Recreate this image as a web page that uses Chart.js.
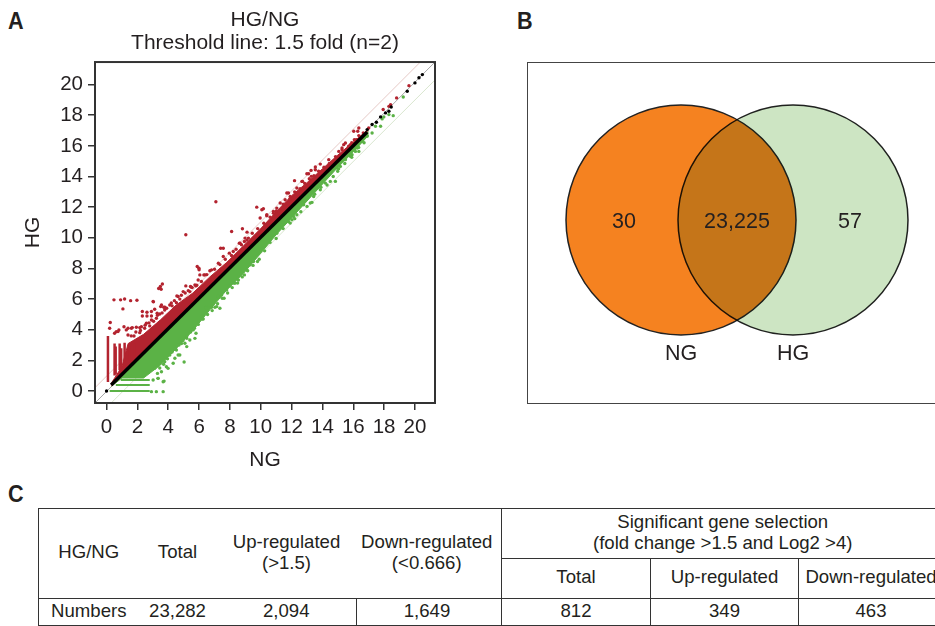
<!DOCTYPE html>
<html>
<head>
<meta charset="utf-8">
<script src="https://cdn.jsdelivr.net/npm/chart.js@4"></script>
<style>
  html, body { margin: 0; padding: 0; background: #fff; }
  body { width: 935px; height: 626px; overflow: hidden; position: relative; font-family: "Liberation Sans", Arial, sans-serif; color: #231f20; }
  canvas { position: absolute; }
  .letter { position: absolute; font-family: "Liberation Sans", sans-serif; font-weight: bold; font-size: 24px; line-height: 24px; transform: scaleX(0.9); transform-origin: left; }
  #venn-box { position: absolute; left: 527px; top: 62px; width: 500px; height: 340px; border: 1.5px solid #444; }
  #gene-table { position: absolute; left: 38px; top: 508px; width: 905px; table-layout: fixed; border-collapse: collapse; font-size: 18.6px; line-height: 21px; text-align: center; }
  #gene-table td { border: 1.5px solid #333; padding: 0 0 4px 0; }
  #gene-table .open { border-left: none; border-right: none; }
  #gene-table .first { border-right: none; }
</style>
</head>
<body>
<div class="letter" style="left:8px;top:9px">A</div>
<div class="letter" style="left:517px;top:9px">B</div>
<div class="letter" style="left:8px;top:482px">C</div>

<canvas id="scatterChart" width="534" height="473" style="left:0;top:0"></canvas>
<div id="venn-box"></div>
<canvas id="vennChart" width="408" height="340" style="left:527px;top:62px"></canvas>
<table id="gene-table"></table>

<script>
// Panel A, values
const tickValues = [0, 2, 4, 6, 8, 10, 12, 14, 16, 18, 20];

// dense clouds: shared x, top of the red cloud and bottom of the green cloud
const bandX = [0.3, 1, 1.4, 2.4, 3.5, 4.5, 5.6, 6.7, 7.8, 8.9, 10, 11, 12, 13, 14, 15, 16, 17];
const redTop = [0.5, 1.6, 3.1, 3.7, 4.65, 5.6, 6.4, 7.45, 8.4, 9.5, 10.6, 11.7, 12.75, 13.6, 14.5, 15.4, 16.25, 17.1];
const greenBottom = [0.3, 0.85, 0.85, 0.85, 1.7, 2.75, 3.95, 5.3, 6.6, 7.7, 9, 10.2, 11.3, 12.4, 13.5, 14.6, 15.6, 16.7];

// low-expression streaks in the bottom left corner
const streakX = [0.09, 0.52, 0.59, 0.85, 0.95, 1.17, 1.5, 1.82];
const streakTop = [3.6, 3.1, 2.9, 3.1, 2.8, 3.15, 3.0, 3.1];
const rowY = [0, 0.4, 0.72];
const rowEnd = [2.8, 2.8, 2.8];

const thresholdUpX = [-0.75, 20.35];
const thresholdUpY = [0.22, 21.47];
const thresholdDownX = [0.3, 21.3];
const thresholdDownY = [-0.78, 20.3];
const diagonalX = [-0.75, 21.3];
const diagonalY = [-0.78, 21.47];

const redX = [0.48, 0.91, 1.17, 1.56, 1.97, 1.06, 0.24, 0.2, 2.32, 2.32, 2.62, 2.91, 2.62, 2.91, 3.12, 3.04, 3.51, 3.71, 3.38, 3.49, 3.62, 3.54, 5.14, 4.56, 5.14, 5.44, 5.73, 5.4, 5.88, 5.99, 6.31, 5.94, 7.4, 7.57, 8.11, 8.66, 8.98, 0.63, 0.8, 1.13, 1.39, 1.67, 1.93, 2.15, 7.09, 8.81, 9.11, 9.74, 10.07, 10.39, 10.82, 11.69, 11.91, 12.19, 12.67, 13.1, 13.28, 13.86, 13.54, 14.73, 15.27, 15.38, 15.7, 16.03, 16.36, 16.07, 17.0, 17.94, 18.31, 18.42, 18.81, 19.61,
  0.52, 0.74, 1.28, 1.61, 2.26, 2.58, 2.91, 3.23, 1.39, 1.78, 2.15, 2.47, 2.8, 3.45, 3.77, 4.25, 4.53,
  3.02, 6.0, 6.05, 5.51, 5.79, 6.38, 6.81, 7.25, 7.57, 7.96, 8.22, 8.61, 8.94, 9.2, 4.97, 4.64, 4.1, 3.78, 3.56, 3.28,
  10.17, 9.96, 10.39, 10.82, 11.04, 11.8, 12.71, 12.99, 13.26, 13.54, 12.34, 14.41, 15.06, 15.27, 15.49, 15.81, 16.29, 16.36, 11.58, 11.26,
  1.6, 1.9, 2.2, 2.5, 2.75, 3.05, 3.3, 3.6, 3.9, 4.2, 4.4, 4.75, 4.85, 5.1, 5.3, 5.55, 5.85, 6.15, 6.5, 6.7, 7.0, 7.35, 7.7, 8.1, 8.4, 8.75, 9.1, 9.45, 9.8, 10.2, 10.6, 11.0, 11.45, 11.9, 12.2, 12.55, 12.85, 13.15, 13.45, 13.75, 14.1, 14.45, 14.85, 15.1, 15.55, 15.9, 16.2, 16.65];
const redY = [5.95, 5.95, 6.01, 5.9, 5.93, 5.36, 4.47, 4.1, 5.19, 4.9, 5.14, 5.19, 4.9, 4.9, 5.34, 5.82, 5.51, 5.47, 6.69, 6.82, 6.99, 6.64, 10.2, 6.21, 6.86, 6.82, 6.93, 6.49, 8.13, 8.02, 7.58, 7.25, 9.32, 9.32, 10.41, 9.65, 9.98, 3.88, 3.99, 4.2, 4.1, 4.14, 4.16, 4.14, 12.35, 10.59, 10.37, 12.0, 11.83, 11.44, 11.61, 12.92, 12.7, 13.73, 13.68, 14.18, 14.01, 14.81, 14.44, 14.88, 15.75, 16.08, 15.97, 16.95, 17.17, 16.4, 17.17, 18.37, 18.58, 18.69, 19.13, 19.93,
  3.77, 3.88, 3.99, 4.1, 4.2, 4.42, 4.64, 4.75, 3.66, 3.59, 3.81, 4.1, 4.25, 5.03, 5.29, 5.56, 5.77,
  5.84, 7.91, 7.58, 6.78, 6.86, 7.58, 7.91, 8.34, 8.78, 9.0, 9.11, 9.65, 9.76, 9.98, 6.49, 6.17, 5.62, 5.47, 5.62, 5.08,
  11.9, 11.29, 11.5, 11.72, 11.94, 12.92, 13.68, 14.18, 14.4, 14.62, 13.25, 15.1, 15.64, 15.86, 16.19, 16.08, 16.95, 16.67, 12.48, 12.27,
  3.6, 3.85, 3.95, 4.3, 4.45, 4.55, 4.95, 5.1, 5.4, 5.75, 5.9, 6.0, 6.25, 6.4, 6.55, 6.75, 6.9, 7.15, 7.6, 7.85, 7.95, 8.25, 8.6, 8.85, 9.25, 9.55, 9.85, 10.3, 10.6, 10.95, 11.35, 11.75, 12.2, 12.55, 13.0, 13.2, 13.55, 13.85, 14.05, 14.35, 14.6, 14.85, 15.3, 15.35, 15.75, 16.2, 16.4, 16.85];

const greenX = [5.03, 3.73, 5.2, 5.8, 4.86, 5.2, 7.35, 7.03, 6.48, 6.27, 9.79, 9.09, 8.26, 3.34, 3.99, 4.32, 4.64, 19.24, 18.59, 18.31, 17.98, 17.87, 17.77, 17.44, 17.22, 16.9, 16.57, 16.25, 15.92, 14.95, 14.84, 14.99, 14.19, 13.32, 12.13, 11.91, 11.04,
  5.62, 5.08, 5.18, 4.53, 4.1, 3.77, 3.67, 3.34, 3.23, 2.91, 3.67, 3.02, 3.56, 3.12, 3.88, 4.43, 4.75, 5.4, 5.73,
  8.94, 8.33, 8.0, 7.62, 7.25, 6.81, 7.14, 6.44, 6.16, 9.31, 9.53, 8.55, 7.79, 7.46,
  16.36, 16.14, 15.81, 15.49, 15.16, 14.51, 13.86, 13.43, 13.21, 12.78, 12.34, 12.02, 11.37,
  3.3, 3.45, 3.7, 3.95, 4.25, 4.45, 4.7, 4.95, 5.2, 5.45, 5.7, 5.95, 6.2, 6.55, 6.85, 7.2, 7.5, 7.85, 8.15, 8.5, 8.8, 9.15, 9.5, 9.9, 10.25, 10.6, 11.0, 11.45, 11.8, 12.2, 12.6, 13.0, 13.5, 13.9, 14.3, 14.7, 15.05, 15.45, 15.9, 16.35, 16.7];
const greenY = [1.9, 0.65, 2.9, 3.77, 3.1, 3.44, 5.4, 5.47, 5.47, 4.7, 8.45, 7.9, 7.04, 0.83, 1.48, 1.81, 2.35, 19.19, 17.97, 18.04, 17.89, 17.76, 17.28, 17.28, 16.84, 16.62, 16.3, 15.86, 15.42, 14.55, 13.68, 14.34, 13.57, 12.31, 11.39, 10.96, 10.3,
  3.99, 3.12, 3.55, 2.68, 2.35, 1.92, 0.61, 0.83, -0.04, -0.04, -0.04, 0.72, 1.26, 1.48, 1.59, 2.14, 2.35, 3.33, 3.44,
  7.58, 7.04, 6.86, 6.06, 6.17, 5.47, 5.51, 5.4, 4.86, 8.24, 8.45, 7.25, 6.6, 6.27,
  15.64, 15.64, 15.32, 15.1, 14.66, 13.68, 13.14, 12.7, 12.27, 12.16, 11.5, 11.18, 10.85,
  1.15, 1.5, 1.75, 2.1, 2.55, 2.75, 3.0, 3.3, 3.6, 3.85, 4.1, 4.35, 4.7, 5.0, 5.25, 5.7, 6.05, 6.4, 6.75, 7.05, 7.45, 7.85, 8.2, 8.6, 9.15, 9.7, 9.95, 10.6, 11.05, 11.25, 11.7, 12.05, 12.85, 13.3, 13.45, 14.0, 14.5, 14.85, 15.25, 15.9, 16.2];

const blackX = [0, 16.9, 17.22, 17.5, 17.77, 18.09, 18.31, 18.46, 19.5, 20.0, 20.26, 20.48];
const blackY = [0, 17.06, 17.39, 17.54, 17.89, 18.15, 18.26, 18.54, 19.56, 20.11, 20.44, 20.65];
const coreX = [0.3, 16.9];
const coreY = [0.4, 16.9];

// Panel B
const vennNames = ["NG", "HG"];
const vennCounts = ["30", "23,225", "57"];

// Panel C
const tableHeadLeft = [["HG/NG"], ["Total"], ["Up-regulated", "(&gt;1.5)"], ["Down-regulated", "(&lt;0.666)"]];
const tableGroup = ["Significant gene selection", "(fold change &gt;1.5 and Log2 &gt;4)"];
const tableHeadRight = ["Total", "Up-regulated", "Down-regulated"];
const tableRow = ["Numbers", "23,282", "2,094", "1,649", "812", "349", "463"];

const ink = "#231f20";
const red = "#b3232f";
const green = "#5bb246";

function pts(xs, ys) {
  return xs.map((x, i) => ({ x, y: ys[i] }));
}

// vertical streaks and horizontal rows are separate strokes, NaN breaks the line
function streakPoints() {
  const out = [];
  streakX.forEach((x, i) => {
    out.push({ x, y: x + 0.5 }, { x, y: streakTop[i] }, { x: NaN, y: NaN });
  });
  return out;
}
function rowPoints() {
  const out = [];
  rowY.forEach((y, i) => {
    out.push({ x: y + 0.2, y }, { x: rowEnd[i], y }, { x: NaN, y: NaN });
  });
  return out;
}

function lineSet(xs, ys, color, width) {
  return { type: "scatter", data: pts(xs, ys), showLine: true, borderColor: color, borderWidth: width, pointRadius: 0 };
}
function dotSet(xs, ys, color, r) {
  return { type: "scatter", data: pts(xs, ys), backgroundColor: color, borderWidth: 0, pointRadius: r };
}

const boxPlugin = {
  id: "box",
  afterDraw(chart) {
    const a = chart.chartArea;
    const ctx = chart.ctx;
    ctx.save();
    ctx.strokeStyle = "#333";
    ctx.lineWidth = 2;
    ctx.strokeRect(a.left, a.top, a.right - a.left, a.bottom - a.top);
    ctx.restore();
  },
};

new Chart(document.getElementById("scatterChart"), {
  type: "scatter",
  data: {
    datasets: [
      dotSet(blackX, blackY, "#000", 1.7),
      lineSet(coreX, coreY, "#000", 3.5),
      dotSet(redX, redY, red, 1.7),
      dotSet(greenX, greenY, green, 1.7),
      { type: "scatter", data: streakPoints(), showLine: true, spanGaps: false, borderColor: red, borderWidth: 2.5, pointRadius: 0 },
      { type: "scatter", data: rowPoints(), showLine: true, spanGaps: false, borderColor: green, borderWidth: 2, pointRadius: 0 },
      { type: "scatter", data: pts(bandX, redTop), showLine: true, borderColor: red, borderWidth: 1, pointRadius: 0, backgroundColor: red, fill: { target: 8 } },
      { type: "scatter", data: pts(bandX, greenBottom), showLine: true, borderColor: green, borderWidth: 1, pointRadius: 0, backgroundColor: green, fill: { target: 8 } },
      { type: "scatter", data: pts(bandX, bandX), showLine: true, borderWidth: 0, pointRadius: 0 },
      lineSet(thresholdUpX, thresholdUpY, "#e6c9c6", 1),
      lineSet(thresholdDownX, thresholdDownY, "#d9e6cf", 1),
      lineSet(diagonalX, diagonalY, "#a8a8a8", 1),
    ],
  },
  options: {
    responsive: false,
    animation: false,
    layout: { padding: { top: 8, right: 99, left: 0, bottom: 0 } },
    plugins: {
      legend: { display: false },
      tooltip: { enabled: false },
      title: {
        display: true,
        fullSize: false,
        text: ["HG/NG", "Threshold line: 1.5 fold (n=2)"],
        color: ink,
        font: { family: "Liberation Sans", size: 21, weight: "normal", lineHeight: 1.12 },
        padding: { top: 0, bottom: 7 },
      },
    },
    scales: {
      x: {
        min: -0.75,
        max: 21.3,
        afterBuildTicks(axis) { axis.ticks = tickValues.map((v) => ({ value: v })); },
        afterFit(axis) { axis.height = 70; },
        grid: { drawOnChartArea: false, tickLength: 7, color: "#333", lineWidth: 1.5 },
        border: { display: false },
        ticks: { color: ink, font: { family: "Liberation Sans", size: 20.5 }, maxRotation: 0, autoSkip: false, padding: 5 },
        title: { display: true, text: "NG", color: ink, font: { family: "Liberation Sans", size: 21 }, padding: { top: 0, bottom: 0 } },
      },
      y: {
        min: -0.78,
        max: 21.47,
        afterBuildTicks(axis) { axis.ticks = tickValues.map((v) => ({ value: v })); },
        afterFit(axis) { axis.width = 95; },
        grid: { drawOnChartArea: false, tickLength: 7, color: "#333", lineWidth: 1.5 },
        border: { display: false },
        ticks: { color: ink, font: { family: "Liberation Sans", size: 20.5 }, autoSkip: false, padding: 5 },
        title: { display: true, text: "HG", color: ink, font: { family: "Liberation Sans", size: 21 }, padding: { top: 21, bottom: 0 } },
      },
    },
  },
  plugins: [boxPlugin],
});

// Venn: the second circle multiplies over the first, that gives the overlap colour
const vennSpots = [
  { x: 97, y: 180 }, { x: 210, y: 180 }, { x: 323, y: 180 },
  { x: 154, y: 48 }, { x: 266, y: 48 },
];
const vennPlugin = {
  id: "vennText",
  beforeDatasetDraw(chart, args) {
    if (args.index === 0) chart.ctx.globalCompositeOperation = "multiply";
  },
  afterDatasetDraw(chart, args) {
    if (args.index === 0) chart.ctx.globalCompositeOperation = "source-over";
  },
  afterDraw(chart) {
    const ctx = chart.ctx;
    ctx.save();
    ctx.fillStyle = ink;
    ctx.font = '21.5px "Liberation Sans"';
    ctx.textAlign = "center";
    ctx.textBaseline = "middle";
    vennCounts.concat(vennNames).forEach((t, i) => {
      ctx.fillText(t, chart.scales.x.getPixelForValue(vennSpots[i].x), chart.scales.y.getPixelForValue(vennSpots[i].y));
    });
    ctx.restore();
  },
};

new Chart(document.getElementById("vennChart"), {
  type: "bubble",
  data: {
    datasets: [
      { label: vennNames[1], data: [{ x: 266, y: 182 }], radius: 115, backgroundColor: "#cde5c3", borderColor: "#222", borderWidth: 1.5 },
      { label: vennNames[0], data: [{ x: 154, y: 182 }], radius: 115, backgroundColor: "#f58220", borderColor: "#222", borderWidth: 1.5 },
    ],
  },
  options: {
    responsive: false,
    animation: false,
    layout: { autoPadding: false },
    plugins: { legend: { display: false }, tooltip: { enabled: false } },
    scales: {
      x: { display: false, min: 0, max: 408 },
      y: { display: false, min: 0, max: 340 },
    },
  },
  plugins: [vennPlugin],
});

// Table, plain html
const table = document.getElementById("gene-table");
const colWidths = [102, 76, 140, 145, 149, 148, 145];
const rowHeights = [50, 40, 27];
const colNudge = [2, 2, 0, 4, 0, 0, 0];
table.innerHTML =
  "<colgroup>" + colWidths.map((w) => `<col style="width:${w}px">`).join("") + "</colgroup>" +
  `<tr style="height:${rowHeights[0]}px">` +
  tableHeadLeft.map((lines, i) => `<td rowspan="2" class="${i === 0 ? "first" : "open"}" style="padding-right:${colNudge[i]}px;${i === 3 ? "border-right:1.5px solid #333" : ""}">${lines.join("<br>")}</td>`).join("") +
  `<td colspan="3" style="border-right:none">${tableGroup.join("<br>")}</td></tr>` +
  `<tr style="height:${rowHeights[1]}px">` + tableHeadRight.map((t) => `<td>${t}</td>`).join("") + "</tr>" +
  `<tr style="height:${rowHeights[2]}px">` +
  tableRow.map((t, i) => `<td class="${i === 0 ? "first" : i < 3 ? "open" : ""}" style="padding-right:${colNudge[i]}px">${t}</td>`).join("") + "</tr>";
</script>
</body>
</html>
